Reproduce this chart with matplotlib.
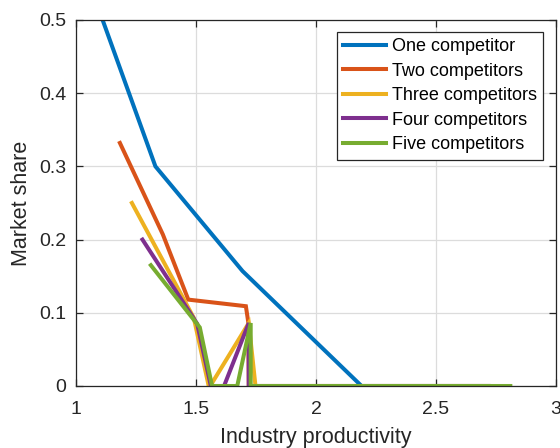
import matplotlib.pyplot as plt

plt.rcParams['font.family'] = ['Liberation Sans', 'DejaVu Sans']

# market share of each firm against industry productivity
x_one = [1.111, 1.331, 1.694, 2.19, 2.72]
y_one = [0.5, 0.300, 0.157, 0.0, 0.0]

x_two = [1.183, 1.362, 1.468, 1.708, 1.718, 1.72, 2.72]
y_two = [0.332, 0.207, 0.118, 0.109, 0.087, 0.0, 0.0]

x_three = [1.233, 1.491, 1.553, 1.565, 1.72, 1.748, 2.72]
y_three = [0.250, 0.093, 0.0, 0.003, 0.086, 0.0, 0.0]

x_four = [1.277, 1.505, 1.562, 1.617, 1.72, 1.72, 2.72]
y_four = [0.200, 0.085, 0.0, 0.0, 0.086, 0.0, 0.0]

x_five = [1.312, 1.516, 1.567, 1.672, 1.728, 1.728, 2.81]
y_five = [0.165, 0.080, 0.0, 0.0, 0.086, 0.0, 0.0]

labels = ['One competitor', 'Two competitors', 'Three competitors',
          'Four competitors', 'Five competitors']
colors = ['#0072BD', '#D95319', '#EDB120', '#7E2F8E', '#77AC30']

fig = plt.figure(figsize=(5.6, 4.48), dpi=100)
ax = fig.add_axes([0.1357, 0.1384, 0.857, 0.817])

series = [(x_one, y_one), (x_two, y_two), (x_three, y_three),
          (x_four, y_four), (x_five, y_five)]
for (xs, ys), lab, c in zip(series, labels, colors):
    ax.plot(xs, ys, color=c, lw=2.9, label=lab, solid_joinstyle='miter')

ax.set_xlim(1, 3)
ax.set_ylim(0, 0.5)
ax.set_xticks([1, 1.5, 2, 2.5, 3])
ax.set_xticklabels(['1', '1.5', '2', '2.5', '3'])
ax.set_yticks([0, 0.1, 0.2, 0.3, 0.4, 0.5])
ax.set_yticklabels(['0', '0.1', '0.2', '0.3', '0.4', '0.5'])

dark = '#262626'
ax.grid(True, color='#dcdcdc', lw=0.9)
ax.set_axisbelow(True)
for s in ax.spines.values():
    s.set_color(dark)
    s.set_linewidth(0.9)
ax.tick_params(direction='in', top=True, right=True, length=5, width=0.9,
               colors=dark, labelsize=14)
ax.tick_params(axis='x', pad=11)
ax.tick_params(axis='y', pad=7)

ax.set_xlabel('Industry productivity', fontsize=15.5, color=dark, labelpad=6.5)
ax.set_ylabel('Market share', fontsize=15.5, color=dark, labelpad=5)

leg = ax.legend(loc='upper right', bbox_to_anchor=(0.973, 0.968),
                borderaxespad=0, fontsize=13, fancybox=False, framealpha=1,
                edgecolor=dark, handlelength=2.4, handletextpad=0.3,
                labelspacing=0.42, borderpad=0.35)
leg.get_frame().set_linewidth(0.9)

fig.savefig('out.png', dpi=100)
